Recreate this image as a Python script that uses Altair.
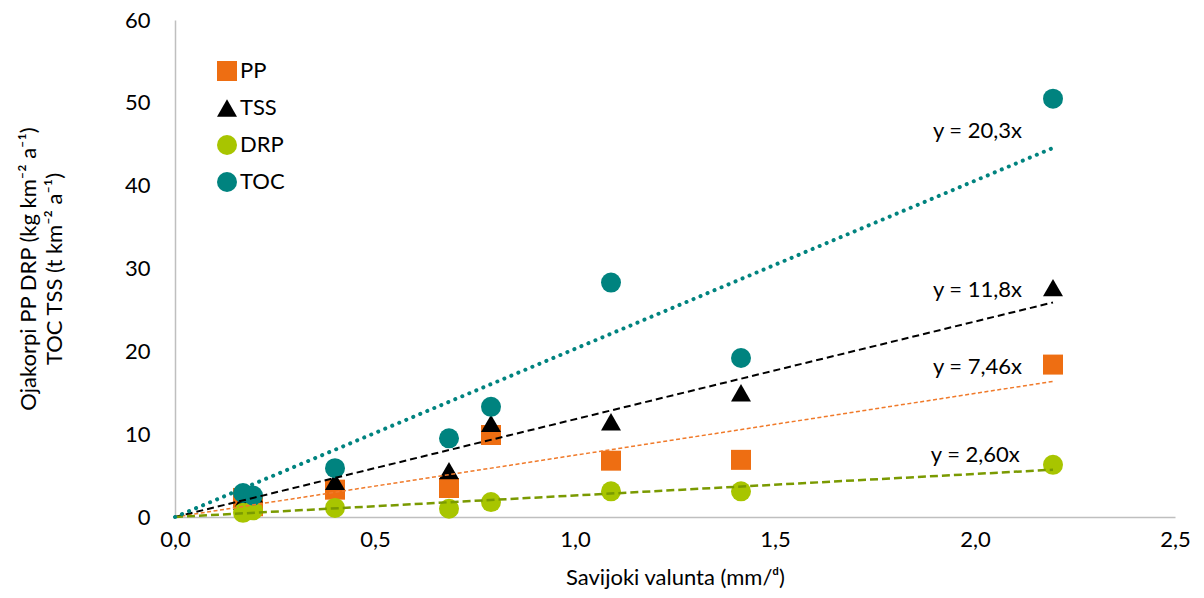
import altair as alt
import pandas as pd

# Runoff (mm/d) at each sampling period
runoff = [0.17, 0.195, 0.40, 0.685, 0.79, 1.09, 1.415, 2.195]

# Loads per series
pp = [2.3, 1.3, 3.3, 3.5, 9.9, 6.8, 6.9, 18.4]
tss = [1.9, 2.8, 4.3, 5.6, 11.3, 11.5, 15.0, 27.7]
drp = [0.5, 0.8, 1.1, 1.0, 1.8, 3.1, 3.1, 6.3]
toc = [2.9, 2.6, 5.9, 9.5, 13.3, 28.3, 19.2, 50.5]

series_names = ["PP", "TSS", "DRP", "TOC"]
series_values = [pp, tss, drp, toc]
series_colors = ["#EE6E12", "#000000", "#A8C500", "#00837F"]
series_shapes = ["square", "triangle-up", "circle", "circle"]
series_sizes = [400, 400, 256, 256]

# Fitted slopes through the origin (y = k x)
slopes = [7.46, 11.8, 2.60, 20.3]
slope_labels = ["y = 7,46x", "y = 11,8x", "y = 2,60x", "y = 20,3x"]
line_colors = ["#F07A2A", "#000000", "#7A9A01", "#00837F"]
line_widths = [1.5, 2, 2.5, 4]
line_dashes = [[4, 2.5], [7, 4], [8, 4], [0.1, 7.5]]
# Where each equation is written
label_x = [2.1175, 2.1175, 2.112, 2.1175]
label_y = [18.1, 27.4, 7.5, 46.6]

FONT = "Lato"
FS = 22

rows = []
for k, (name, vals) in enumerate(zip(series_names, series_values)):
    for xv, yv in zip(runoff, vals):
        rows.append({"x": xv, "y": yv, "series": name, "order": k})
points_df = pd.DataFrame(rows)

x_scale = alt.Scale(domain=[0, 2.5], nice=False, zero=True)
y_scale = alt.Scale(domain=[0, 60], nice=False)

x_axis = alt.Axis(
    title="Savijoki valunta (mm/ᵈ)",
    values=[0, 0.5, 1.0, 1.5, 2.0, 2.5],
    labelExpr="replace(format(datum.value, '.1f'), '.', ',')",
    labelFlush=False,
    grid=False, ticks=False, labelPadding=12, titlePadding=17,
    domainColor="#BFBFBF", domainWidth=1.5,
)
y_axis = alt.Axis(
    title=["Ojakorpi PP DRP (kg km⁻² a⁻¹)", "TOC TSS (t km⁻² a⁻¹)"],
    values=[0, 10, 20, 30, 40, 50, 60],
    labelFlush=False,
    grid=False, ticks=False, labelPadding=25, titlePadding=58,
    titleLineHeight=26,
    domainColor="#BFBFBF", domainWidth=1.5,
)

points = (
    alt.Chart(points_df)
    .mark_point(filled=True, opacity=1)
    .encode(
        x=alt.X("x:Q", scale=x_scale, axis=x_axis),
        y=alt.Y("y:Q", scale=y_scale, axis=y_axis),
        color=alt.Color(
            "series:N",
            scale=alt.Scale(domain=series_names, range=series_colors),
            legend=alt.Legend(
                title=None, orient="none", legendX=41, legendY=40,
                symbolSize=260, labelFontSize=FS, labelFont=FONT,
                labelColor="#000000", rowPadding=15, labelOffset=2, padding=0,
            ),
        ),
        shape=alt.Shape(
            "series:N",
            scale=alt.Scale(domain=series_names, range=series_shapes),
        ),
        size=alt.Size(
            "series:N",
            scale=alt.Scale(domain=series_names, range=series_sizes),
            legend=None,
        ),
        order=alt.Order("order:Q"),
    )
)

layers = [points]

x_end = max(runoff)
for i, name in enumerate(series_names):
    line_df = pd.DataFrame({"x": [0.0, x_end], "y": [0.0, slopes[i] * x_end]})
    layers.append(
        alt.Chart(line_df)
        .mark_line(
            color=line_colors[i], strokeWidth=line_widths[i],
            strokeDash=line_dashes[i], strokeCap="round" if i == 3 else "butt",
        )
        .encode(x=alt.X("x:Q", scale=x_scale), y=alt.Y("y:Q", scale=y_scale))
    )

label_df = pd.DataFrame({"x": label_x, "y": label_y, "text": slope_labels})
layers.append(
    alt.Chart(label_df)
    .mark_text(align="right", baseline="middle", fontSize=FS, font=FONT, color="#000000")
    .encode(x=alt.X("x:Q", scale=x_scale), y=alt.Y("y:Q", scale=y_scale), text="text:N")
)

chart = (
    alt.layer(*layers)
    .properties(
        width=1000, height=497,
        autosize=alt.AutoSizeParams(type="none"),
        padding={"left": 175, "top": 20, "right": 29, "bottom": 81},
    )
    .configure(background="white")
    .configure_view(stroke=None)
    .configure_axis(
        labelFont=FONT, titleFont=FONT, labelFontSize=FS, titleFontSize=FS,
        labelColor="#000000", titleColor="#000000", titleFontWeight="normal",
    )
)

chart.save("out.html", embed_options={"renderer": "svg", "actions": False})
